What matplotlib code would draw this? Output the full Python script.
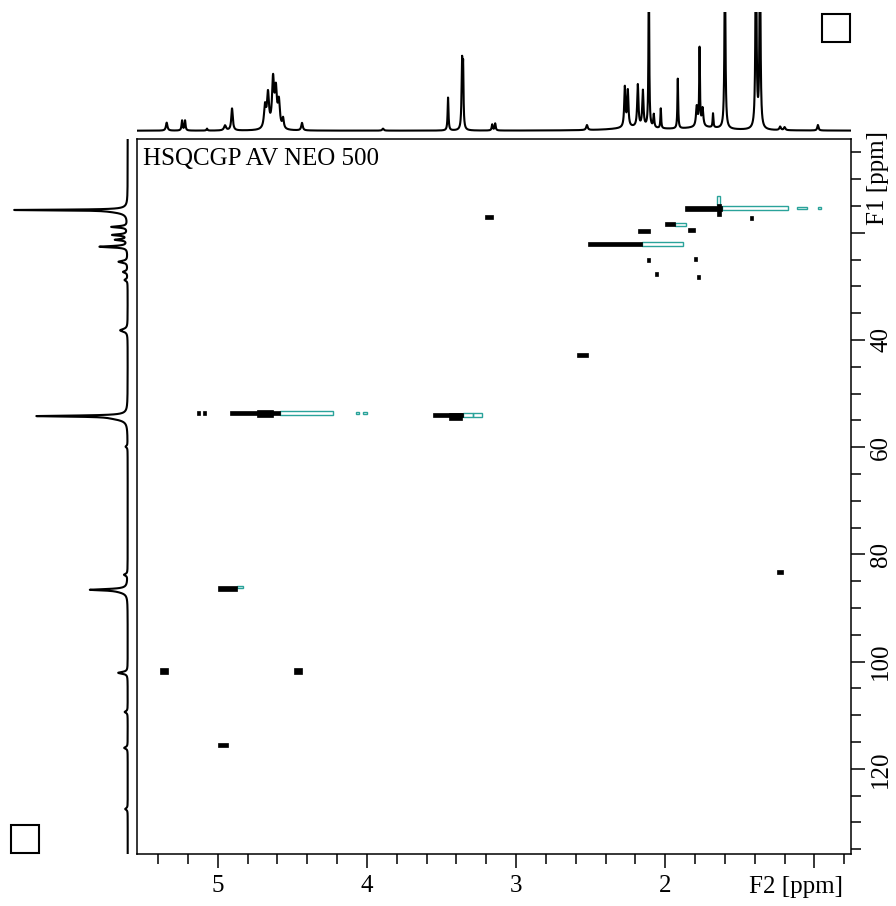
import numpy as np
import matplotlib
matplotlib.use('Agg')
import matplotlib.pyplot as plt
from matplotlib.patches import Rectangle
from matplotlib.transforms import blended_transform_factory

plt.rcParams['font.family'] = ['Liberation Serif', 'DejaVu Serif']

# 1H projection (F2): shift [ppm], height, half width [ppm]
h_shift = [5.342, 5.239, 5.219, 5.072, 4.951, 4.904, 4.683, 4.663, 4.629, 4.610,
           4.590, 4.562, 4.435, 3.892, 3.456, 3.362, 3.355, 3.160, 3.140, 2.525,
           2.271, 2.251, 2.184, 2.150, 2.110, 2.077, 2.030, 1.916, 1.789, 1.770,
           1.750, 1.680, 1.600, 1.392, 1.365, 1.230, 1.200, 0.977, 2.200, 1.750]
h_height = [8, 10, 10, 2, 5, 22, 22, 34, 48, 36,
            26, 10, 7.5, 2, 33, 66, 55, 6, 7, 5,
            40, 36, 42, 36, 160, 13, 20, 50, 20, 78,
            18, 14, 170, 220, 190, 3.5, 3, 5.5, 3, 3]
h_width = [0.006, 0.004, 0.004, 0.004, 0.008, 0.006, 0.008, 0.008, 0.008, 0.008,
           0.008, 0.006, 0.006, 0.006, 0.0035, 0.004, 0.003, 0.004, 0.004, 0.006,
           0.005, 0.005, 0.005, 0.005, 0.003, 0.004, 0.003, 0.003, 0.006, 0.003,
           0.006, 0.003, 0.004, 0.004, 0.004, 0.006, 0.006, 0.005, 0.15, 0.15]

# 13C projection (F1)
c_shift = [15.75, 16.0, 18.9, 20.4, 21.3, 22.6, 25.4, 27.3, 28.8, 38.2,
           54.2, 54.6, 59.9, 83.8, 86.6, 86.9, 102.1, 109.4, 116.1, 127.5]
c_height = [105, 14, 16, 15, 12, 28, 9, 4.5, 3, 7.5,
            85, 12, 2, 3.5, 33, 7, 9.5, 3, 3.5, 2.5]
c_width = [0.08, 0.4, 0.15, 0.15, 0.15, 0.15, 0.2, 0.2, 0.2, 0.3,
           0.12, 0.45, 0.2, 0.2, 0.15, 0.45, 0.2, 0.2, 0.2, 0.2]

# strong (black) cross peaks: F2 from, F2 to, F1 centre, F1 extent
pos_f2_from = [1.867, 1.655, 2.001, 2.183, 1.847, 2.517, 4.918, 4.736, 3.557, 3.450, 4.998]
pos_f2_to = [1.619, 1.625, 1.934, 2.103, 1.800, 2.155, 4.582, 4.629, 3.356, 3.360, 4.870]
pos_f1 = [15.4, 15.8, 18.4, 19.7, 19.5, 22.1, 53.6, 53.8, 54.0, 54.2, 86.3]
pos_f1_span = [0.9, 2.2, 0.8, 0.8, 0.8, 0.9, 0.8, 1.3, 0.9, 1.3, 0.9]

# isolated spots
spot_f2 = [1.419, 2.110, 1.800, 2.056, 1.780, 3.180, 2.556, 5.130, 5.090,
           5.360, 4.462, 4.964, 1.231]
spot_f1 = [17.2, 25.1, 24.9, 27.7, 28.2, 17.1, 42.8, 53.6, 53.6,
           101.8, 101.8, 115.6, 83.3]
spot_f2_span = [0.02, 0.02, 0.02, 0.02, 0.02, 0.05, 0.07, 0.02, 0.02,
                0.055, 0.055, 0.065, 0.04]
spot_f1_span = [0.8, 0.8, 0.8, 0.8, 0.8, 0.7, 0.8, 0.8, 0.8,
                1.1, 1.1, 0.8, 0.8]

# weak contour level (teal outline)
neg_f2_from = [1.619, 1.117, 0.975, 1.934, 2.155, 4.582, 4.075, 4.025, 3.356, 3.290, 4.870, 1.655]
neg_f2_to = [1.177, 1.050, 0.955, 1.860, 1.880, 4.227, 4.055, 4.000, 3.290, 3.228, 4.830, 1.635]
neg_f1 = [15.4, 15.4, 15.4, 18.4, 22.1, 53.6, 53.6, 53.6, 54.0, 54.0, 86.1, 14.0]
neg_f1_span = [0.75, 0.5, 0.5, 0.6, 0.75, 0.75, 0.5, 0.5, 0.75, 0.75, 0.5, 1.6]

f2_lim = (5.539, 0.757)
f1_lim = (135.9, 2.56)
teal = '#2aa39a'


def lorentz(x, x0, h, w):
    return h * w ** 2 / ((x - x0) ** 2 + w ** 2)


W, H = 896, 906


def box(l, t, r, b):
    return [l / W, 1 - b / H, (r - l) / W, (b - t) / H]


fig = plt.figure(figsize=(W / 100, H / 100), dpi=100)
ax = fig.add_axes(box(137.3, 139.3, 850.7, 854))
top = fig.add_axes(box(137.3, 12, 850.7, 132))
side = fig.add_axes(box(8, 139.3, 132, 854))

# projections
x = np.linspace(f2_lim[0], f2_lim[1], 8000)
y1 = np.zeros_like(x)
for s, h, w in zip(h_shift, h_height, h_width):
    y1 += lorentz(x, s, h, w)
top.plot(x, y1, color='black', lw=1.5)
top.set_xlim(f2_lim)
top.set_ylim(-1.3, 118.7)
top.axis('off')

c = np.linspace(f1_lim[1], f1_lim[0], 6000)
y2 = np.zeros_like(c)
for s, h, w in zip(c_shift, c_height, c_width):
    y2 += lorentz(c, s, h, w)
side.plot(y2, c, color='black', lw=1.5)
side.set_xlim(119.7, -4.3)
side.set_ylim(f1_lim)
side.axis('off')

# 2D cross peaks
for a, b, m, d in zip(neg_f2_from, neg_f2_to, neg_f1, neg_f1_span):
    ax.add_patch(Rectangle((b, m - d / 2), a - b, d, fill=False,
                           edgecolor=teal, lw=1.0, zorder=2))
for a, b, m, d in zip(pos_f2_from, pos_f2_to, pos_f1, pos_f1_span):
    ax.add_patch(Rectangle((b, m - d / 2), a - b, d, facecolor='black',
                           edgecolor='black', lw=0.5, zorder=3))
for s, m, dw, dh in zip(spot_f2, spot_f1, spot_f2_span, spot_f1_span):
    ax.add_patch(Rectangle((s - dw / 2, m - dh / 2), dw, dh, facecolor='black',
                           edgecolor='black', lw=0.5, zorder=3))

ax.set_xlim(f2_lim)
ax.set_ylim(f1_lim)
ax.set_xticks([5, 4, 3, 2, 1])
ax.set_xticklabels(['5', '4', '3', '2', ''])
ax.set_xticks(np.arange(0.8, 5.5, 0.2), minor=True)
ax.yaxis.tick_right()
ax.set_yticks([20, 40, 60, 80, 100, 120])
ax.set_yticklabels(['', '40', '60', '80', '100', '120'], rotation=90, va='center')
ax.set_yticks(np.arange(5, 136, 5), minor=True)
ax.tick_params(which='both', direction='out', width=1.1, labelsize=18)
ax.tick_params(which='major', length=10)
ax.tick_params(which='minor', length=7)
ax.tick_params(axis='x', pad=5)
ax.tick_params(axis='y', pad=4)
for sp in ax.spines.values():
    sp.set_linewidth(1.1)

ax.text(0.008, 0.988, 'HSQCGP AV NEO 500', transform=ax.transAxes,
        ha='left', va='top', fontsize=18)
tb = blended_transform_factory(ax.transData, ax.transAxes)
ax.text(0.81, -0.046, 'F2 [ppm]', transform=tb, ha='right', va='center', fontsize=18)
tr = blended_transform_factory(ax.transAxes, ax.transData)
ax.text(1.038, 9.8, 'F1 [ppm]', transform=tr, ha='center', va='center',
        rotation=90, fontsize=18)

# corner boxes
fig.add_artist(Rectangle((822 / W, 1 - 42 / H), 28 / W, 28 / H, fill=False,
                         lw=1.5, edgecolor='black', transform=fig.transFigure))
fig.add_artist(Rectangle((11 / W, 1 - 853 / H), 28 / W, 28 / H, fill=False,
                         lw=1.5, edgecolor='black', transform=fig.transFigure))

fig.savefig('out.png', dpi=100)
